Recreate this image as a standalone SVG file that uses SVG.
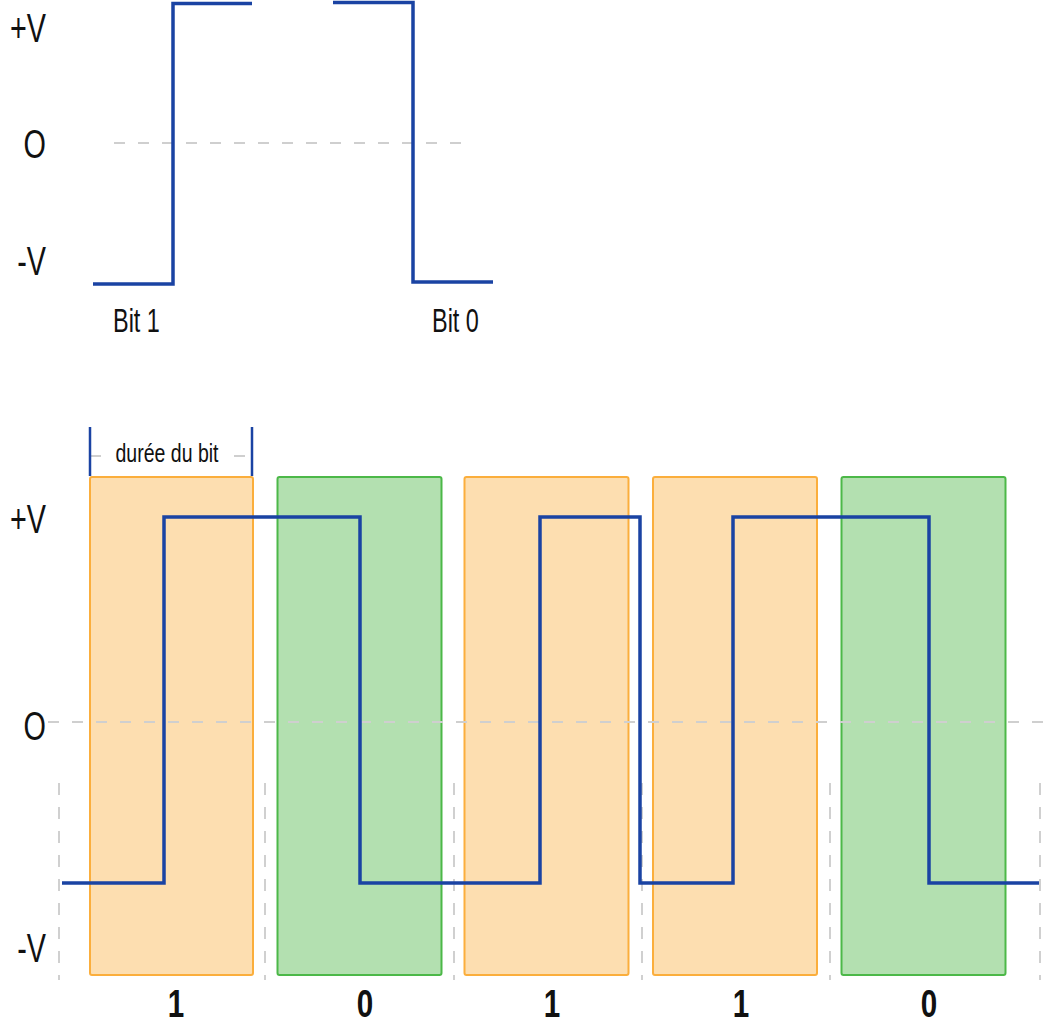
<svg xmlns="http://www.w3.org/2000/svg" width="1053" height="1023" viewBox="0 0 1053 1023">
<style>
.wave{fill:none;stroke:#1a43a3;stroke-width:3.5;stroke-linejoin:miter}
.zero{stroke:#cfcfcf;stroke-width:2;stroke-dasharray:11 13;fill:none}
.vdash{stroke:#d0d0d0;stroke-width:2;stroke-dasharray:12 12;fill:none}
.b1{fill:#fddeb0;stroke:#fbae3c;stroke-width:2}
.b0{fill:#b3e0b0;stroke:#4cb848;stroke-width:2}
.ax{font-family:"Liberation Sans",Arial,sans-serif;font-size:40px;fill:#111;text-anchor:end}
.lbl{font-family:"Liberation Sans",Arial,sans-serif;font-size:34px;fill:#111}
.dig{font-family:"Liberation Sans",Arial,sans-serif;font-size:38px;font-weight:bold;fill:#111;text-anchor:middle}
.dur{font-family:"Liberation Sans",Arial,sans-serif;font-size:26px;fill:#111;text-anchor:middle}
.tick{stroke:#1a43a3;stroke-width:2.5}
</style>
<rect width="1053" height="1023" fill="#fff"/>

<g id="top-diagram">
  <line class="zero" x1="114" y1="143" x2="466" y2="143"/>
  <polyline class="wave" points="93,284 173,284 173,3.5 252,3.5"/>
  <polyline class="wave" points="333,2.5 413,2.5 413,282 493,282"/>
  <g transform="translate(46,42) scale(0.72,1)"><text class="ax">+V</text></g>
  <g transform="translate(46,158) scale(0.72,1)"><text class="ax">O</text></g>
  <g transform="translate(46,275) scale(0.72,1)"><text class="ax">-V</text></g>
  <g transform="translate(113,332) scale(0.69,1)"><text class="lbl">Bit 1</text></g>
  <g transform="translate(432,332) scale(0.69,1)"><text class="lbl">Bit 0</text></g>
</g>

<g id="bottom-axes">
  <line class="vdash" x1="59" y1="783" x2="59" y2="980"/>
  <line class="vdash" x1="265" y1="783" x2="265" y2="980"/>
  <line class="vdash" x1="454" y1="783" x2="454" y2="980"/>
  <line class="vdash" x1="642" y1="783" x2="642" y2="980"/>
  <line class="vdash" x1="830" y1="783" x2="830" y2="980"/>
  <line class="vdash" x1="1040" y1="783" x2="1040" y2="980"/>
  <g transform="translate(46,533) scale(0.72,1)"><text class="ax">+V</text></g>
  <g transform="translate(46,740) scale(0.72,1)"><text class="ax">O</text></g>
  <g transform="translate(46,962) scale(0.72,1)"><text class="ax">-V</text></g>
</g>

<g id="bit-duration">
  <line class="zero" x1="90" y1="456" x2="252" y2="456"/>
  <rect x="108" y="440" width="118" height="30" fill="#fff"/>
  <line class="tick" x1="90" y1="427" x2="90" y2="476"/>
  <line class="tick" x1="252" y1="427" x2="252" y2="476"/>
  <g transform="translate(167,462) scale(0.75,1)"><text class="dur">durée du bit</text></g>
</g>

<g id="bit1-a"><rect class="b1" x="90" y="477" width="163" height="498" rx="2"/></g>
<g id="bit0-a"><rect class="b0" x="277.5" y="477" width="164" height="498" rx="2"/></g>
<g id="bit1-b"><rect class="b1" x="464.5" y="477" width="164" height="498" rx="2"/></g>
<g id="bit1-c"><rect class="b1" x="653" y="477" width="164" height="498" rx="2"/></g>
<g id="bit0-b"><rect class="b0" x="841.5" y="477" width="164" height="498" rx="2"/></g>

<g id="zero-line">
  <line class="zero" x1="48" y1="722" x2="1053" y2="722"/>
</g>

<g id="signal">
  <polyline class="wave" points="62,883 164,883 164,517 360,517 360,883 540,883 540,517 640,517 640,883 733,883 733,517 929,517 929,883 1039,883"/>
</g>

<g id="bit-labels">
  <g transform="translate(176,1017) scale(0.78,1)"><text class="dig">1</text></g>
  <g transform="translate(365,1017) scale(0.78,1)"><text class="dig">0</text></g>
  <g transform="translate(552,1017) scale(0.78,1)"><text class="dig">1</text></g>
  <g transform="translate(741,1017) scale(0.78,1)"><text class="dig">1</text></g>
  <g transform="translate(929,1017) scale(0.78,1)"><text class="dig">0</text></g>
</g>
</svg>
